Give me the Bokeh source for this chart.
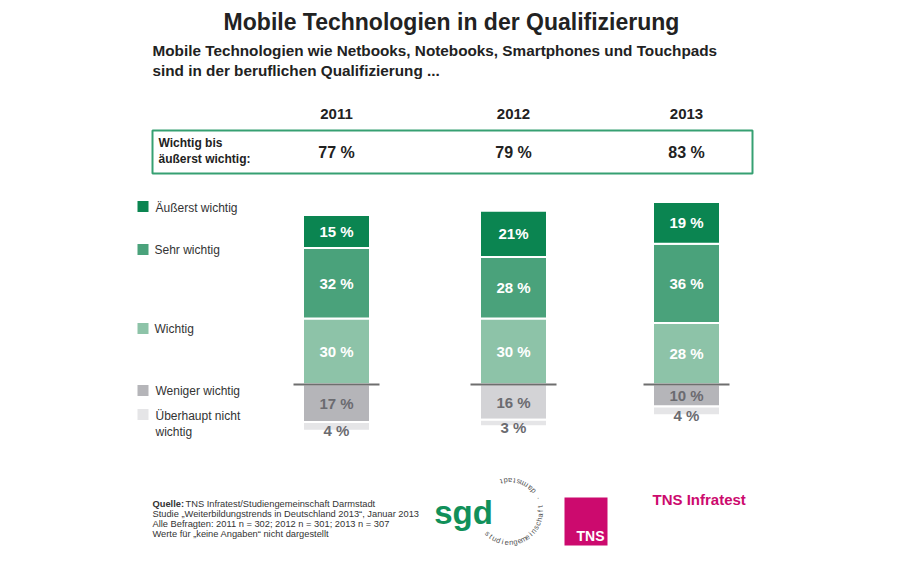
import math
from bokeh.plotting import figure
from bokeh.models import ColumnDataSource, Range1d
from bokeh.core.properties import value
from bokeh.embed import file_html
from bokeh.resources import INLINE

# Daten (Anteile in %)
years = ["2011", "2012", "2013"]
wichtig_bis_aeusserst = [77, 79, 83]
aeusserst_wichtig = [15, 21, 19]
sehr_wichtig = [32, 28, 36]
wichtig = [30, 30, 28]
weniger_wichtig = [17, 16, 10]
ueberhaupt_nicht = [4, 3, 4]

legend_labels = ["Äußerst wichtig", "Sehr wichtig", "Wichtig",
                 "Weniger wichtig", "Überhaupt nicht wichtig"]

footer = [
    "TNS Infratest/Studiengemeinschaft Darmstadt",
    "Studie „Weiterbildungstrends in Deutschland 2013“, Januar 2013",
    "Alle Befragten: 2011 n = 302; 2012 n = 301; 2013 n = 307",
    "Werte für „keine Angaben“ nicht dargestellt",
]

FONT = "Liberation Sans"
C_AE = "#0b8551"
C_SEHR = "#4aa27b"
C_W = "#8dc3a8"
C_WEN = ["#b5b5b9", "#d3d3d6", "#b5b5b9"]
C_UEB = "#e5e5e7"
C_GRAYTXT = "#6b6b70"
MAGENTA = "#cc0a6e"

# Layout: 1 Einheit = 1 px in x und auf der "px"-Achse, Prozent auf der Hauptachse
W, H = 884, 547
PX_PER_PCT = 2.2
BASE_Y = 384          # Bildschirm-y der Nulllinie
bar_x = [336, 513, 686]
BAR_W = 67

p = figure(width=W, height=H,
           x_range=Range1d(0, W),
           y_range=Range1d((BASE_Y - H) / PX_PER_PCT, BASE_Y / PX_PER_PCT),
           x_axis_type=None, y_axis_type=None,
           toolbar_location=None, output_backend="svg", min_border=0,
           outline_line_color=None, background_fill_color="white")
p.extra_y_ranges = {"px": Range1d(0, H)}


def sy(y):
    return H - y


def txt(x, y, s, size, bold=False, color="#222222", align="left", font=FONT):
    p.text(x=[x], y=[sy(y)], text=[s], y_range_name="px",
           text_font=value(font), text_font_size=f"{size}px",
           text_font_style="bold" if bold else "normal",
           text_color=color, text_align=align, text_baseline="middle")


# Titel
txt(451, 21, "Mobile Technologien in der Qualifizierung", 23, bold=True, align="center")
txt(152, 50, "Mobile Technologien wie Netbooks, Notebooks, Smartphones und Touchpads", 15.3, bold=True)
txt(152, 70, "sind in der beruflichen Qualifizierung ...", 15.3, bold=True)

# Jahre und Summenbox
for i, yr in enumerate(years):
    txt(bar_x[i], 113, yr, 15, bold=True, align="center")
    txt(bar_x[i], 152, f"{wichtig_bis_aeusserst[i]} %", 16, bold=True, align="center")
p.quad(left=[152], right=[752], top=[sy(130)], bottom=[sy(173)], y_range_name="px",
       fill_color=None, line_color="#36a072", line_width=2)
txt(158, 142, "Wichtig bis", 12, bold=True)
txt(158, 158, "äußerst wichtig:", 12, bold=True)

# Gestapelte Balken
xs, bottoms, tops, colors, labels, label_y, label_c = [], [], [], [], [], [], []
for i in range(len(years)):
    up = [(wichtig[i], C_W), (sehr_wichtig[i], C_SEHR), (aeusserst_wichtig[i], C_AE)]
    acc = 0
    for v, c in up:
        xs.append(bar_x[i]); bottoms.append(acc); tops.append(acc + v); colors.append(c)
        labels.append(f"{v} %"); label_y.append(acc + v / 2); label_c.append("white")
        acc += v
    down = [(weniger_wichtig[i], C_WEN[i]), (ueberhaupt_nicht[i], C_UEB)]
    acc = 0
    for k, (v, c) in enumerate(down):
        xs.append(bar_x[i]); tops.append(-acc); bottoms.append(-acc - v); colors.append(c)
        labels.append(f"{v} %")
        label_y.append(-acc - v / 2 - (2.0 if k == 1 else 0))
        label_c.append(C_GRAYTXT)
        acc += v
labels[7] = "21%"  # Schreibweise wie im Original (2012, Äußerst wichtig)

src = ColumnDataSource(dict(x=xs, bottom=bottoms, top=tops, color=colors,
                            label=labels, ly=label_y, lc=label_c))
p.vbar(x="x", bottom="bottom", top="top", width=BAR_W, fill_color="color",
       line_color="white", line_width=2, source=src)
p.text(x="x", y="ly", text="label", source=src, text_color="lc",
       text_font=value(FONT), text_font_size="15px", text_font_style="bold",
       text_align="center", text_baseline="middle")

# Nulllinie
p.segment(x0=[x - 43 for x in bar_x], x1=[x + 43 for x in bar_x],
          y0=[0] * 3, y1=[0] * 3, line_color="#6e6e6e", line_width=2)

# Legende
leg_colors = [C_AE, C_SEHR, C_W, C_WEN[0], C_UEB]
leg_y = [206, 249, 328, 390, 414]
p.rect(x=[142.5] * 5, y=[sy(v) for v in leg_y], width=11, height=11,
       fill_color=leg_colors, line_color=None, y_range_name="px")
txt(155, 207, legend_labels[0], 12, color="#333333")
txt(154, 249, legend_labels[1], 12, color="#333333")
txt(154, 328, legend_labels[2], 12, color="#333333")
txt(155, 390, legend_labels[3], 12, color="#333333")
txt(155, 415, "Überhaupt nicht", 12, color="#333333")
txt(155, 431, "wichtig", 12, color="#333333")

# Quelle
txt(152, 503, "Quelle:", 9.3, bold=True, color="#333333")
txt(185, 503, footer[0], 9.3, color="#333333")
for k, line in enumerate(footer[1:]):
    txt(152, 513 + 10 * k, line, 9.3, color="#333333")

# sgd-Logo
txt(463, 512, "sgd", 33, bold=True, color="#11905a", align="center")
ring = "studiengemeinschaft · darmstadt"
cx, cy, r = 509, sy(511), 31
for k, ch in enumerate(ring):
    th = math.radians(225 + 8 * k)
    p.text(x=[cx + r * math.cos(th)], y=[cy + r * math.sin(th)], text=[ch],
           angle=th + math.pi / 2, y_range_name="px", text_font=value(FONT),
           text_font_size="7.5px", text_color="#555555",
           text_align="center", text_baseline="middle")

# TNS-Logo
p.quad(left=[564], right=[607], top=[sy(497)], bottom=[sy(545)], y_range_name="px",
       fill_color=MAGENTA, line_color=None)
txt(604, 535, "TNS", 14, bold=True, color="white", align="right")
txt(652, 499, "TNS Infratest", 15, bold=True, color=MAGENTA)

open("out.html", "w").write(file_html(p, INLINE))
